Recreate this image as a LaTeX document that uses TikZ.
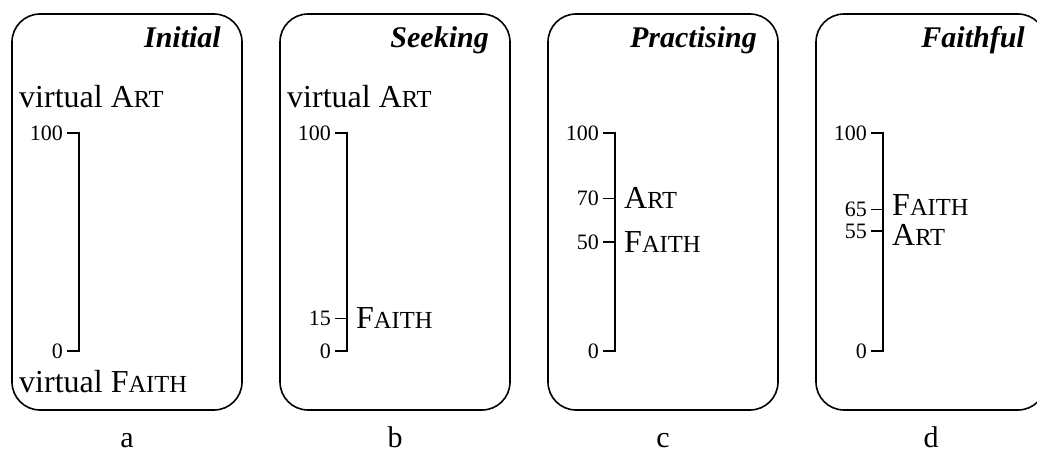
\documentclass[tikz,border=0pt]{standalone}
\usepackage{fontspec}
\setmainfont{Liberation Serif}
\newfontfamily\titlefont{Liberation Serif}
\newcommand\fsc[2]{#1{\fontsize{24.5}{24.5}\selectfont #2}}
\newcommand\ypos[1]{351-2.18*#1}
% #1 shift, #2 id, #3 title, #4 sublabel
\newcommand\basepanel[4]{%
  \begin{scope}[xshift=#1]
  \draw[panel] (12,14) rectangle (242,410);
  \node[title] (#2-title) at (221,48) {#3};
  \node[sub] (#2-sub) at (127,447) {#4};
  \coordinate (#2-t100) at (79,{\ypos{100}});
  \coordinate (#2-s100) at (67,{\ypos{100}});
  \coordinate (#2-t0) at (79,{\ypos{0}});
  \coordinate (#2-s0) at (67,{\ypos{0}});
  \node[ticklab] (#2-l100) at (63,{\ypos{100}}) {100};
  \node[ticklab] (#2-l0) at (63,{\ypos{0}}) {0};
  \draw[axis] (#2-s100) -- (#2-t100) -- (#2-t0) -- (#2-s0);
  \end{scope}}
% #1 shift, #2 id, #3 value, #4 label, #5 label y offset
\newcommand\midtick[5]{%
  \begin{scope}[xshift=#1]
  \coordinate (#2-t#3) at (79,{\ypos{#3}});
  \coordinate (#2-s#3) at (67,{\ypos{#3}});
  \node[ticklab] (#2-l#3) at (63,{\ypos{#3}}) {#3};
  \draw[axis] (#2-s#3) -- (#2-t#3);
  \node[lab] (#2-n#3) at (88,{\ypos{#3}+#5}) {#4};
  \end{scope}}
\begin{document}
\begin{tikzpicture}[x=1pt,y=-1pt,
  panel/.style={draw,line width=1.6pt,rounded corners=28pt},
  axis/.style={line width=1.6pt,line join=miter},
  ticklab/.style={anchor=east,inner sep=0pt,font=\fontsize{22}{22}\selectfont},
  lab/.style={anchor=west,inner sep=0pt,font=\fontsize{32}{32}\selectfont},
  virt/.style={anchor=base west,inner sep=0pt,font=\fontsize{32}{32}\selectfont},
  title/.style={anchor=base east,inner sep=0pt,font=\titlefont\bfseries\itshape\fontsize{30}{30}\selectfont},
  sub/.style={anchor=base,inner sep=0pt,font=\fontsize{30}{30}\selectfont}]
\useasboundingbox (0,0) rectangle (1037,452);
\clip (0,0) rectangle (1037,452);
% a
\basepanel{0pt}{a}{Initial}{a}
\node[virt] (a-va) at (19,107) {virtual \fsc{A}{RT}};
\node[virt] (a-vf) at (19,392) {virtual \fsc{F}{AITH}};
% b
\basepanel{268pt}{b}{Seeking}{b}
\node[virt] (b-va) at (287,107) {virtual \fsc{A}{RT}};
\midtick{268pt}{b}{15}{\fsc{F}{AITH}}{0}
% c
\basepanel{536pt}{c}{Practising}{c}
\midtick{536pt}{c}{70}{\fsc{A}{RT}}{0}
\midtick{536pt}{c}{50}{\fsc{F}{AITH}}{0}
% d
\basepanel{804pt}{d}{Faithful}{d}
\midtick{804pt}{d}{65}{\fsc{F}{AITH}}{-4}
\midtick{804pt}{d}{55}{\fsc{A}{RT}}{4}
\end{tikzpicture}
\end{document}
